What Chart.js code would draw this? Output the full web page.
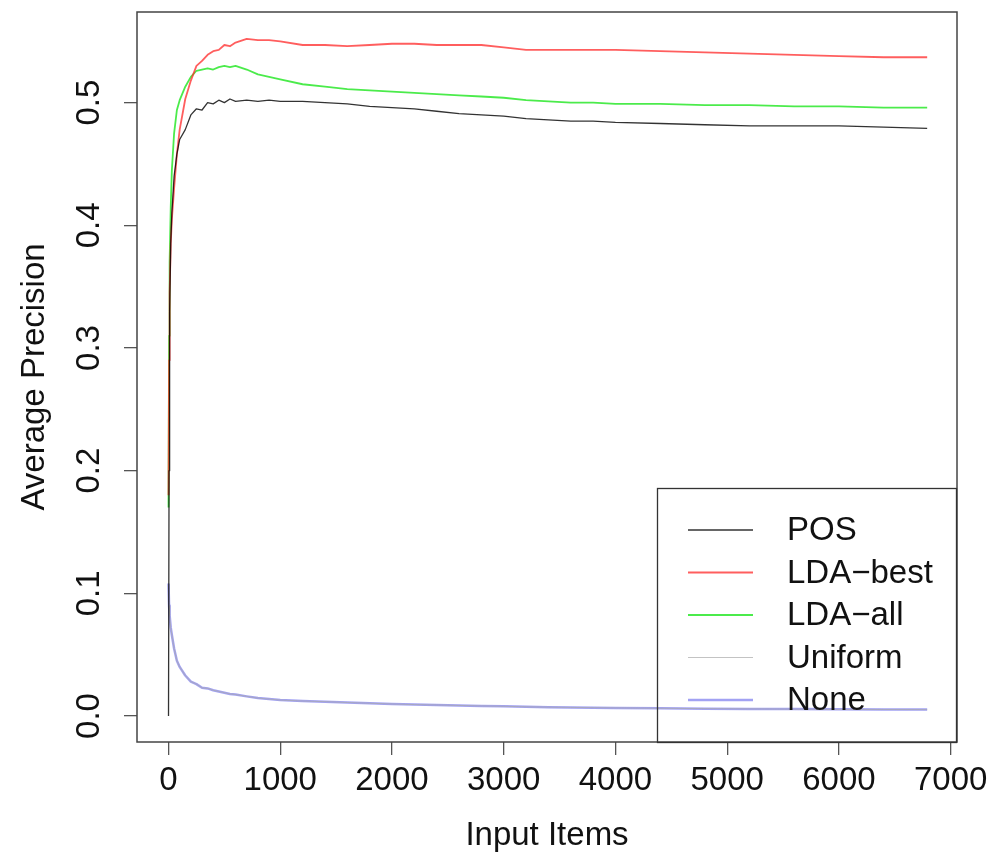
<!DOCTYPE html>
<html>
<head>
<meta charset="utf-8">
<script src="https://cdn.jsdelivr.net/npm/chart.js@4.4.1/dist/chart.umd.min.js"></script>
<style>
  html, body { margin: 0; padding: 0; background: #fff; }
  canvas { display: block; }
</style>
</head>
<body>
<canvas id="myChart" width="993" height="858"></canvas>
<script>
// (input items vs average precision)
const inputItems = [0, 5, 10, 20, 30, 50, 75, 100, 150, 200, 250, 300, 350, 400, 450, 500, 550, 600, 700, 800, 900,
    1000, 1200, 1400, 1600, 1800, 2000, 2200, 2400, 2600, 2800, 3000, 3200, 3400, 3600, 3800, 4000,
    4400, 4800, 5200, 5600, 6000, 6400, 6790];

const pos = [0.000, 0.200, 0.330, 0.385, 0.410, 0.440, 0.458, 0.470, 0.478, 0.490, 0.495, 0.494, 0.500, 0.499, 0.502, 0.500, 0.503, 0.501, 0.502, 0.501, 0.502,
    0.501, 0.501, 0.500, 0.499, 0.497, 0.496, 0.495, 0.493, 0.491, 0.490, 0.489, 0.487, 0.486, 0.485, 0.485, 0.484,
    0.483, 0.482, 0.481, 0.481, 0.481, 0.480, 0.479];

const ldaBest = [0.180, 0.290, 0.345, 0.385, 0.405, 0.430, 0.458, 0.478, 0.503, 0.518, 0.530, 0.534, 0.539, 0.542, 0.543, 0.547, 0.546, 0.549, 0.552, 0.551, 0.551,
    0.550, 0.547, 0.547, 0.546, 0.547, 0.548, 0.548, 0.547, 0.547, 0.547, 0.545, 0.543, 0.543, 0.543, 0.543, 0.543,
    0.542, 0.541, 0.540, 0.539, 0.538, 0.537, 0.537];

const ldaAll = [0.170, 0.310, 0.370, 0.415, 0.445, 0.475, 0.494, 0.502, 0.513, 0.521, 0.526, 0.527, 0.528, 0.527, 0.529, 0.530, 0.529, 0.530, 0.527, 0.523, 0.521,
    0.519, 0.515, 0.513, 0.511, 0.510, 0.509, 0.508, 0.507, 0.506, 0.505, 0.504, 0.502, 0.501, 0.500, 0.500, 0.499,
    0.499, 0.498, 0.498, 0.497, 0.497, 0.496, 0.496];

const uniform = [0.108, 0.090, 0.082, 0.072, 0.066, 0.055, 0.045, 0.040, 0.033, 0.028, 0.026, 0.023, 0.0225, 0.021, 0.020, 0.019, 0.018, 0.0175, 0.016, 0.0146, 0.0138,
    0.013, 0.0122, 0.0117, 0.011, 0.0104, 0.0098, 0.0093, 0.009, 0.0086, 0.0082, 0.0079, 0.0075, 0.0072, 0.007, 0.0068, 0.0066,
    0.0063, 0.006, 0.0058, 0.0056, 0.0054, 0.0053, 0.0052];

const none = [0.108, 0.090, 0.082, 0.072, 0.066, 0.055, 0.045, 0.040, 0.033, 0.028, 0.026, 0.023, 0.0225, 0.021, 0.020, 0.019, 0.018, 0.0175, 0.016, 0.0146, 0.0138,
    0.013, 0.0122, 0.0117, 0.011, 0.0104, 0.0098, 0.0093, 0.009, 0.0086, 0.0082, 0.0079, 0.0075, 0.0072, 0.007, 0.0068, 0.0066,
    0.0063, 0.006, 0.0058, 0.0056, 0.0054, 0.0053, 0.0052];

const seriesNames = ['POS', 'LDA\u2212best', 'LDA\u2212all', 'Uniform', 'None'];
const xTickValues = [0, 1000, 2000, 3000, 4000, 5000, 6000, 7000];
const yTickValues = [0.0, 0.1, 0.2, 0.3, 0.4, 0.5];

const FONT = '"Liberation Sans", Arial, Helvetica, sans-serif';

const toPoints = ys => inputItems.map((x, i) => ({ x: x, y: ys[i] }));

// R-style box, rotated y labels and the boxed legend
const rStyle = {
    id: 'rStyle',
    afterDraw(chart) {
        const { ctx, chartArea: a, scales } = chart;
        ctx.save();

        ctx.strokeStyle = '#444';
        ctx.lineWidth = 1.5;
        ctx.strokeRect(a.left, a.top, a.right - a.left, a.bottom - a.top);

        ctx.fillStyle = '#111';
        ctx.font = '33px ' + FONT;
        ctx.textAlign = 'center';
        ctx.textBaseline = 'middle';
        yTickValues.forEach(v => {
            const py = scales.y.getPixelForValue(v);
            ctx.save();
            ctx.translate(90, py);
            ctx.rotate(-Math.PI / 2);
            ctx.fillText(v.toFixed(1), 0, 0);
            ctx.restore();
        });

        // legend
        const lx = 657, ly = 488, lw = 299, lh = a.bottom - 488;
        ctx.strokeStyle = '#333';
        ctx.lineWidth = 1.3;
        ctx.strokeRect(lx + 0.5, ly + 0.5, lw, lh);
        ctx.textAlign = 'left';
        chart.data.datasets.forEach((ds, i) => {
            const ry = 530 + i * 42.5;
            ctx.strokeStyle = ds.borderColor;
            ctx.lineWidth = ds.borderWidth;
            ctx.beginPath();
            ctx.moveTo(688, ry);
            ctx.lineTo(753, ry);
            ctx.stroke();
            ctx.fillStyle = '#111';
            ctx.fillText(ds.label, 787, ry + 1);
        });
        ctx.restore();
    }
};

const ctx = document.getElementById('myChart');

new Chart(ctx, {
    type: 'line',
    data: {
        datasets: [
            { label: seriesNames[0], data: toPoints(pos), borderColor: 'rgba(0, 0, 0, 0.8)', borderWidth: 1.3 },
            { label: seriesNames[1], data: toPoints(ldaBest), borderColor: 'rgba(255, 40, 40, 0.75)', borderWidth: 1.8 },
            { label: seriesNames[2], data: toPoints(ldaAll), borderColor: 'rgba(30, 230, 30, 0.8)', borderWidth: 1.8 },
            { label: seriesNames[3], data: toPoints(uniform), borderColor: 'rgba(170, 170, 170, 0.7)', borderWidth: 1 },
            { label: seriesNames[4], data: toPoints(none), borderColor: 'rgba(100, 100, 235, 0.6)', borderWidth: 2.5 },
        ]
    },
    options: {
        responsive: false,
        animation: false,
        devicePixelRatio: 1,
        layout: { padding: { top: 12, right: 36, left: 0, bottom: 0 } },
        elements: {
            point: { radius: 0 },
            line: { tension: 0, borderJoinStyle: 'round' }
        },
        plugins: {
            legend: { display: false },
            tooltip: { enabled: false }
        },
        scales: {
            x: {
                type: 'linear',
                min: -282,
                max: 7057,
                afterBuildTicks: s => { s.ticks = xTickValues.map(v => ({ value: v })); },
                afterFit: s => { s.height = 116; s.paddingLeft = 0; s.paddingRight = 0; },
                grid: { drawOnChartArea: false, tickLength: 13, color: '#555', lineWidth: 1.3 },
                border: { display: false },
                ticks: { font: { family: FONT, size: 33 }, color: '#111', padding: 6, maxRotation: 0, callback: v => String(v) },
                title: { display: true, text: 'Input Items', font: { family: FONT, size: 33 }, color: '#111', padding: { top: 0, bottom: 2 } }
            },
            y: {
                type: 'linear',
                min: -0.0212,
                max: 0.5739,
                afterBuildTicks: s => { s.ticks = yTickValues.map(v => ({ value: v })); },
                afterFit: s => { s.width = 137; },
                grid: { drawOnChartArea: false, tickLength: 13, color: '#555', lineWidth: 1.3 },
                border: { display: false },
                ticks: { display: false },
                title: { display: true, text: 'Average Precision', font: { family: FONT, size: 33 }, color: '#111', padding: { top: 15, bottom: 0 } }
            }
        }
    },
    plugins: [rStyle]
});
</script>
</body>
</html>
